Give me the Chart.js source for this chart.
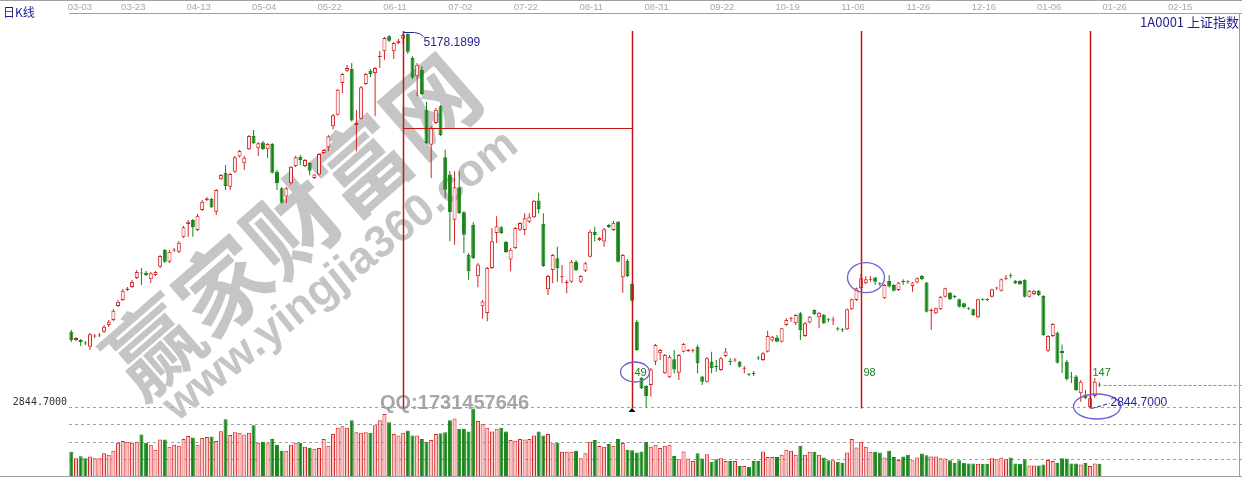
<!DOCTYPE html>
<html><head><meta charset="utf-8">
<script src="https://cdn.jsdelivr.net/npm/chart.js@4.4.0/dist/chart.umd.min.js"></script>
<style>html,body{margin:0;padding:0;background:#fff;overflow:hidden}canvas{display:block}</style>
</head><body>
<canvas id="c" width="1242" height="477"></canvas>
<script>
// ---- daily K-line data, 上证指数 2015-03-03 .. 2016-01-20 ----
const openP = [
3319,3268,3268,3252,3226,3290,3296,3319,3361,3392,
3479,3517,3579,3598,3654,3688,3687,3646,3672,3724,
3828,3755,3825,3817,3907,3990,4015,3952,4077,4139,
4145,4066,4268,4309,4222,4315,4409,4367,4455,4537,
4461,4496,4455,4488,4315,4212,4160,4243,4351,4407,
4351,4369,4276,4297,4431,4467,4598,4670,4867,4944,
4956,4606,4645,4861,4944,4929,5029,5064,5158,5064,
5116,5143,5174,5023,4909,4950,4701,4483,4618,4722,
4405,4297,4016,4218,4063,3799,3985,3664,3478,3436,
3716,3934,3969,3878,3768,3840,3954,3952,4004,4031,
4135,3990,3583,3703,3776,3658,3621,3631,3755,3631,
3699,3786,3940,3890,3880,3983,3952,4004,3658,3761,
3616,3382,3031,2982,2988,3133,3185,3061,3036,3148,
3064,3195,3199,3201,3226,3040,3008,3133,3104,3081,
3168,3135,3140,3133,3089,3056,3062,3156,3143,3195,
3264,3284,3257,3361,3400,3372,3434,3293,3376,3455,
3409,3423,3395,3389,3338,3332,3334,3459,3517,3590,
3621,3643,3656,3619,3528,3635,3610,3579,3633,3632,
3604,3625,3666,3625,3448,3434,3459,3537,3562,3540,
3521,3496,3466,3459,3409,3523,3522,3537,3588,3575,
3649,3668,3637,3635,3641,3537,3554,3575,3542,3201,
3293,3313,3199,3133,3041,3040,2936,2926,2849,2919,
2991];
const highP = [
3330,3286,3274,3262,3311,3305,3311,3361,3392,3461,
3517,3585,3598,3641,3703,3716,3697,3691,3697,3797,
3834,3828,3840,3884,3977,4015,4021,4052,4139,4158,
4151,4207,4301,4357,4307,4413,4450,4413,4543,4575,
4500,4506,4494,4494,4326,4220,4220,4351,4413,4419,
4394,4376,4301,4431,4456,4543,4674,4830,4929,4979,
4991,4699,4848,4929,4954,4967,5066,5153,5166,5122,
5141,5178.1899,5176,5033,4992,4971,4749,4599,4711,4730,
4452,4320,4318,4318,4071,3809,4002,3747,3517,3722,
3965,4038,3977,3884,3840,3971,4002,4056,4056,4139,
4184,4056,3672,3803,3848,3734,3641,3766,3766,3672,
3753,3952,3973,3909,3965,3990,4008,4008,3803,3772,
3622,3392,3037,2988,3094,3243,3212,3181,3175,3206,
3181,3249,3212,3214,3237,3044,3162,3195,3143,3162,
3218,3154,3156,3137,3106,3062,3075,3168,3193,3326,
3293,3299,3343,3403,3413,3429,3442,3380,3417,3459,
3442,3429,3405,3413,3349,3343,3464,3526,3595,3679,
3666,3666,3660,3627,3616,3672,3616,3629,3646,3640,
3629,3656,3672,3629,3465,3470,3542,3593,3566,3548,
3525,3500,3472,3462,3525,3527,3528,3587,3599,3650,
3672,3683,3641,3639,3646,3579,3579,3579,3546,3299,
3374,3320,3240,3143,3069,3050,3019,2957,2919,3031,
3003];
const lowP = [
3255,3262,3230,3237,3206,3280,3286,3311,3349,3386,
3473,3510,3573,3591,3647,3610,3666,3623,3666,3716,
3747,3747,3815,3809,3902,3911,3911,3946,4071,4133,
4089,4046,4263,4201,4201,4307,4404,4326,4450,4488,
4413,4450,4400,4304,4201,4117,4120,4234,4344,4357,
4344,4293,4270,4292,4425,4442,4577,4665,4805,4935,
4628,4442,4640,4855,4904,4660,4960,5012,5122,5016,
5110,5103,5048,4892,4784,4792,4488,4276,4612,4537,
4151,3882,3861,4052,3809,3643,3772,3596,3400,3384,
3710,3871,3927,3809,3695,3834,3946,3921,3996,4027,
4056,3722,3548,3621,3631,3621,3558,3622,3697,3622,
3691,3781,3880,3884,3848,3965,3946,3750,3562,3660,
3507,3199,2963,2850.7,2915,3112,3143,3057,3031,3061,
3019,3190,3193,3190,3061,2988,3003,3061,3071,3075,
3162,3112,3131,3096,3061,3044,3044,3143,3137,3190,
3257,3255,3252,3355,3382,3361,3268,3286,3371,3423,
3341,3367,3380,3361,3324,3318,3330,3455,3511,3585,
3616,3631,3610,3604,3523,3595,3569,3573,3610,3618,
3568,3619,3641,3439,3330,3430,3455,3532,3517,3527,
3470,3466,3455,3417,3405,3512,3510,3532,3579,3569,
3641,3652,3616,3610,3532,3532,3548,3542,3293,3193,
3286,3122,3062,3016,3000,2950,2884,2901,2844.7,2907,
2975];
const closeP = [
3268,3280,3255,3246,3303,3296,3299,3351,3382,3450,
3506,3575,3588,3629,3691,3682,3672,3683,3691,3791,
3755,3817,3831,3873,3969,4004,3969,4041,4128,4148,
4094,4201,4295,4226,4301,4405,4444,4402,4537,4492,
4492,4455,4488,4309,4243,4122,4212,4346,4405,4388,
4388,4321,4297,4425,4450,4535,4666,4825,4923,4960,
4633,4618,4840,4923,4923,4960,5035,5147,5130,5116,
5130,5166,5062,4902,4981,4799,4494,4587,4701,4542,
4203,4062,4218,4058,3923,3695,3778,3737,3508,3716,
3882,3975,3933,3815,3830,3965,3996,4025,4035,4135,
4081,3728,3666,3797,3714,3665,3631,3755,3703,3666,
3745,3942,3921,3903,3957,3971,3998,3755,3797,3666,
3512,3206,2967,2919,3085,3237,3206,3174,3164,3085,
3175,3243,3204,3205,3123,3008,3154,3092,3100,3154,
3196,3131,3145,3101,3093,3051,3056,3152,3185,3293,
3288,3257,3341,3392,3405,3423,3330,3372,3413,3429,
3438,3372,3390,3394,3334,3328,3459,3521,3590,3652,
3646,3647,3631,3614,3610,3600,3575,3625,3629,3627,
3625,3652,3646,3444,3455,3465,3537,3590,3521,3535,
3475,3471,3462,3423,3521,3518,3517,3583,3593,3646,
3654,3664,3620,3614,3537,3575,3575,3548,3299,3293,
3367,3127,3187,3023,3035,2957,3008,2905,2905,3008,
2985];
const volume = [
374e6,277e6,307e6,277e6,303e6,277e6,277e6,353e6,329e6,389e6,
510e6,534e6,525e6,510e6,525e6,631e6,510e6,480e6,404e6,556e6,
556e6,450e6,480e6,465e6,565e6,610e6,586e6,480e6,580e6,595e6,
601e6,534e6,681e6,858e6,625e6,666e6,656e6,631e6,656e6,768e6,
510e6,525e6,500e6,565e6,480e6,389e6,389e6,480e6,510e6,510e6,
450e6,435e6,419e6,429e6,565e6,465e6,640e6,731e6,752e6,731e6,
843e6,666e6,656e6,666e6,656e6,768e6,843e6,934e6,813e6,640e6,
616e6,656e6,692e6,616e6,616e6,565e6,525e6,550e6,640e6,651e6,
666e6,843e6,868e6,716e6,716e6,677e6,1019e6,833e6,792e6,731e6,
677e6,716e6,731e6,677e6,550e6,540e6,565e6,556e6,565e6,616e6,
677e6,616e6,640e6,500e6,510e6,374e6,374e6,374e6,389e6,277e6,
353e6,525e6,550e6,459e6,450e6,489e6,465e6,565e6,504e6,404e6,
398e6,363e6,379e6,525e6,450e6,480e6,429e6,465e6,480e6,313e6,
262e6,379e6,273e6,238e6,353e6,273e6,338e6,227e6,262e6,277e6,
238e6,238e6,238e6,162e6,162e6,151e6,238e6,238e6,379e6,298e6,
298e6,298e6,329e6,404e6,389e6,329e6,465e6,329e6,374e6,374e6,
329e6,288e6,247e6,247e6,227e6,212e6,363e6,565e6,439e6,525e6,
450e6,374e6,374e6,363e6,288e6,389e6,298e6,253e6,303e6,329e6,
247e6,288e6,348e6,323e6,303e6,303e6,277e6,273e6,247e6,212e6,
247e6,212e6,201e6,201e6,197e6,197e6,197e6,277e6,262e6,288e6,
262e6,288e6,201e6,197e6,262e6,171e6,171e6,171e6,186e6,253e6,
238e6,212e6,277e6,273e6,201e6,201e6,186e6,212e6,162e6,201e6,
197e6];

// ---- axis / label data ----
const tickLabels = ['03-03','03-23','04-13','05-04','05-22','06-11','07-02','07-22','08-11',
  '08-31','09-22','10-19','11-06','11-26','12-16','01-06','01-26','02-15'];
const holidays = ['2015-04-06','2015-05-01','2015-06-22','2015-09-03','2015-09-04',
  '2015-10-01','2015-10-02','2015-10-05','2015-10-06','2015-10-07','2016-01-01'];
const totalSlots = 251;
const volTicks = [257468466, 514936931, 772405397];
const cycleIdx = [71, 120, 169, 218];
const cycleText = ['', '49', '98', '147'];
const hLevel = 4587;
const titleLeft = '日K线';
const titleRight = '1A0001 上证指数';
const markCn = '赢家财富网';
const markUrl = 'www.yingjia360.com';
const markQQ = 'QQ:1731457646';

// categories: trading days (future slots: weekdays)
const categories = [];
(function(){
  const d = new Date(Date.UTC(2015, 2, 3));
  while (categories.length < totalSlots) {
    const wd = d.getUTCDay();
    const iso = d.toISOString().slice(0, 10);
    if (wd !== 0 && wd !== 6 && !holidays.includes(iso)) categories.push(iso.slice(5));
    d.setUTCDate(d.getUTCDate() + 1);
  }
})();

const RED = '#d42424', GREEN = '#148414';
const up = openP.map((o, i) => closeP[i] >= o);
const bodies = openP.map((o, i) => [o, closeP[i]]);
const wicks = lowP.map((l, i) => [l, highP[i]]);
const edge = up.map(u => u ? RED : GREEN);
const bodyFill = up.map(u => u ? '#fff0f0' : GREEN);
const volFill = up.map(u => u ? '#ffc4c4' : GREEN);

const peakVal = Math.max(...highP), peakIdx = highP.indexOf(peakVal);
const lowVal = Math.min(...lowP), lowIdx = lowP.indexOf(lowVal);

function markText(ctx, text, font, cx, cy, deg) {
  ctx.save();
  ctx.textAlign = 'center'; ctx.textBaseline = 'middle';
  ctx.translate(cx, cy); ctx.rotate(deg * Math.PI / 180);
  ctx.font = font;
  ctx.lineJoin = 'round';
  ctx.strokeStyle = 'rgba(255,255,255,0.9)'; ctx.lineWidth = 3;
  ctx.strokeText(text, 0, 0);
  ctx.fillStyle = 'rgba(140,140,140,0.5)';
  ctx.fillText(text, 0, 0);
  ctx.restore();
}

const deco = {
  id: 'deco',
  beforeDatasetsDraw(chart) {
    const ctx = chart.ctx;
    markText(ctx, markCn, 'bold 92px "Noto Sans CJK SC"', 292, 226, -41);
    markText(ctx, markUrl, 'bold 45px "Liberation Sans"', 341, 276, -38.5);
    ctx.save();
    ctx.fillStyle = 'rgba(150,150,150,0.85)';
    ctx.font = 'bold 20px "Liberation Sans"';
    ctx.textBaseline = 'alphabetic';
    ctx.fillText(markQQ, 380, 409);
    ctx.restore();
  },
  afterDatasetsDraw(chart) {
    const ctx = chart.ctx, xs = chart.scales.x, ys = chart.scales.y;
    const px = i => Math.round(xs.getPixelForValue(i)) + 0.5;
    const yPeak = ys.getPixelForValue(peakVal);
    const yLow = Math.round(ys.getPixelForValue(lowVal)) + 0.5;
    ctx.save();
    // cycle lines
    ctx.strokeStyle = '#c41414'; ctx.lineWidth = 1.5;
    cycleIdx.forEach(i => {
      ctx.beginPath(); ctx.moveTo(px(i), Math.round(yPeak) - 2); ctx.lineTo(px(i), yLow); ctx.stroke();
    });
    ctx.lineWidth = 1.2;
    const yh = Math.round(ys.getPixelForValue(hLevel)) + 0.5;
    ctx.beginPath(); ctx.moveTo(px(cycleIdx[0]), yh); ctx.lineTo(px(cycleIdx[1]), yh); ctx.stroke();
    // cycle counts
    ctx.fillStyle = '#1e7e1e'; ctx.font = '11px "Liberation Sans"'; ctx.textBaseline = 'middle';
    cycleIdx.forEach((i, k) => { if (cycleText[k]) ctx.fillText(cycleText[k], px(i) + 2, yLow - 36); });
    // ellipses
    ctx.strokeStyle = 'rgb(112,96,210)'; ctx.lineWidth = 1.3;
    ctx.beginPath(); ctx.ellipse(px(cycleIdx[1]) + 2.5, yLow - 36.5, 14.5, 10, 0, 0, Math.PI * 2); ctx.stroke();
    ctx.beginPath(); ctx.ellipse(px(cycleIdx[2]) + 4.5, ys.getPixelForValue(highP[cycleIdx[2]]) + 3.7, 18.5, 15, 0, 0, Math.PI * 2); ctx.stroke();
    ctx.beginPath(); ctx.ellipse(px(lowIdx) + 6.5, yLow - 2, 23.5, 12.5, 0, 0, Math.PI * 2); ctx.stroke();
    // triangle under 2nd line
    const tx = px(cycleIdx[1]);
    ctx.fillStyle = '#000';
    ctx.beginPath(); ctx.moveTo(tx - 4, yLow + 3.5); ctx.lineTo(tx + 3, yLow + 3.5); ctx.lineTo(tx - 0.5, yLow - 0.5); ctx.closePath(); ctx.fill();
    // peak annotation
    const pxp = px(peakIdx);
    ctx.strokeStyle = '#25259a'; ctx.lineWidth = 1;
    ctx.beginPath(); ctx.moveTo(pxp, yPeak - 0.5); ctx.lineTo(pxp + 11, yPeak - 0.5);
    ctx.quadraticCurveTo(pxp + 17, yPeak, pxp + 20, yPeak + 3.5); ctx.stroke();
    ctx.fillStyle = '#25259a'; ctx.font = '12px "Liberation Sans"'; ctx.textBaseline = 'middle';
    ctx.fillText(peakVal.toFixed(4), pxp + 20, yPeak + 10);
    // low annotation
    const pxl = px(lowIdx);
    ctx.setLineDash([4, 2]);
    ctx.beginPath(); ctx.moveTo(pxl + 1, yLow); ctx.lineTo(pxl + 19, yLow - 5); ctx.stroke();
    ctx.setLineDash([]);
    ctx.fillText(lowVal.toFixed(4), pxl + 20, yLow - 6);
    // last close line
    const last = closeP.length - 1;
    const yc = Math.round(ys.getPixelForValue(closeP[last])) + 0.5;
    ctx.strokeStyle = '#909090'; ctx.setLineDash([3, 2]);
    ctx.beginPath(); ctx.moveTo(px(last) + 4, yc); ctx.lineTo(chart.width, yc); ctx.stroke();
    ctx.setLineDash([]);
    ctx.restore();
  },
  afterDraw(chart) {
    const ctx = chart.ctx, a = chart.chartArea;
    ctx.save();
    ctx.strokeStyle = '#a0a0a0'; ctx.lineWidth = 1;
    ctx.beginPath();
    ctx.moveTo(0, 0.5); ctx.lineTo(chart.width, 0.5);
    ctx.moveTo(0, 476.5); ctx.lineTo(chart.width, 476.5);
    ctx.moveTo(1239.5, a.top); ctx.lineTo(1239.5, chart.height);
    ctx.stroke();
    ctx.fillStyle = '#1e1e8a';
    ctx.font = '12px "Noto Sans CJK SC"'; ctx.textBaseline = 'alphabetic'; ctx.textAlign = 'left';
    ctx.fillText(titleLeft, 3, 17);
    ctx.font = '13px "Noto Sans CJK SC"'; ctx.textAlign = 'right';
    ctx.fillText(titleRight, 1239, 27);
    ctx.restore();
  }
};

new Chart(document.getElementById('c'), {
  type: 'bar',
  data: {
    labels: categories,
    datasets: [
      { label: 'body', data: bodies, yAxisID: 'y', grouped: false, barThickness: 4, borderWidth: 1,
        borderSkipped: false, minBarLength: 1, inflateAmount: 0,
        backgroundColor: bodyFill, borderColor: edge, order: 0 },
      { label: 'wick', data: wicks, yAxisID: 'y', grouped: false, barThickness: 1, borderWidth: 0,
        inflateAmount: 0, backgroundColor: edge, order: 1 },
      { label: 'vol', data: volume, yAxisID: 'v', grouped: false, barThickness: 4, borderWidth: 1,
        borderSkipped: false, inflateAmount: 0, backgroundColor: volFill, borderColor: edge, order: 2 }
    ]
  },
  options: {
    responsive: false, animation: false, devicePixelRatio: 1,
    layout: { padding: 0 },
    plugins: { legend: { display: false }, tooltip: { enabled: false } },
    scales: {
      x: {
        position: 'top',
        grid: { display: false, drawTicks: false },
        border: { display: true, color: '#a0a0a0', width: 1 },
        ticks: {
          autoSkip: false, maxRotation: 0, minRotation: 0, padding: 0, align: 'inner', labelOffset: -3.5,
          color: '#a8a8a8', font: { family: 'Liberation Sans', size: 9.5 },
          callback: v => tickLabels.includes(categories[v]) ? categories[v] : ''
        },
        afterFit: s => { s.height = 13; s.paddingLeft = 0; s.paddingRight = 0; }
      },
      y: {
        position: 'left', weight: 1, min: 2415.3, max: 5302.6,
        grid: { color: '#a0a0a0', drawTicks: false },
        border: { display: false, dash: [3, 3] },
        afterBuildTicks: s => { s.ticks = [{ value: lowVal }]; },
        ticks: { padding: 2, labelOffset: -5.5, color: '#333', font: { family: 'DejaVu Sans Mono', size: 10 },
          callback: v => Number(v).toFixed(4) },
        afterFit: s => { s.width = 69; s.paddingTop = 0; s.paddingBottom = 0; }
      },
      v: {
        position: 'left', weight: 0, min: 0, max: 6.892e9,
        grid: { color: '#a0a0a0', drawTicks: false },
        border: { display: false, dash: [3, 3] },
        afterBuildTicks: s => { s.ticks = volTicks.map(v => ({ value: v })); },
        ticks: { padding: 2, color: '#333', font: { family: 'DejaVu Sans Mono', size: 10 },
          callback: v => String(v) },
        afterFit: s => { s.width = 0; s.paddingTop = 0; s.paddingBottom = 0; }
      }
    }
  },
  plugins: [deco]
});
</script>
</body></html>
